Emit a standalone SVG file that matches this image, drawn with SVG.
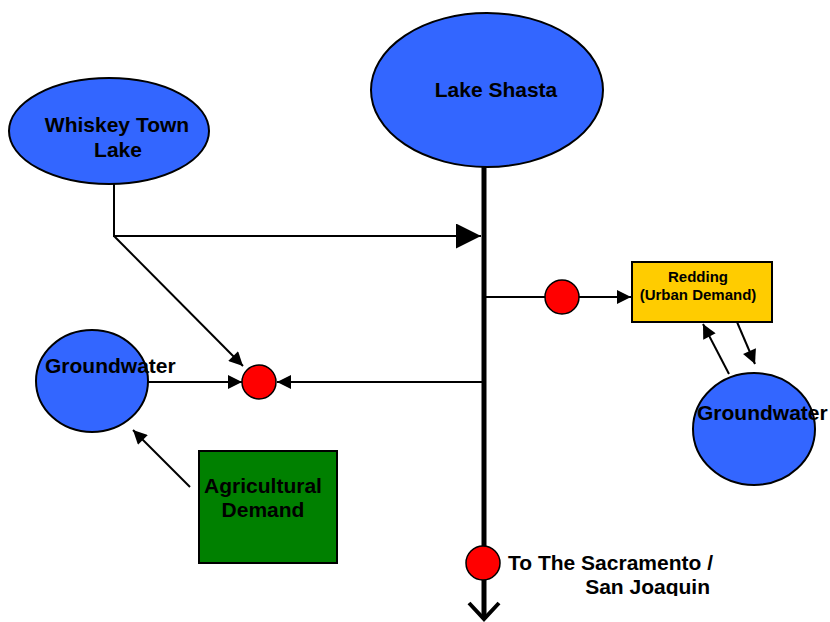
<svg xmlns="http://www.w3.org/2000/svg" width="830" height="622" viewBox="0 0 830 622">
<style>
.blue{fill:#3366FF;stroke:#000;stroke-width:2}
.red{fill:#FF0000;stroke:#000;stroke-width:1.5}
.t{font-family:"Liberation Sans",Arial,sans-serif;font-weight:bold;font-size:21px;fill:#000}
.s{font-size:15px}
.ln{fill:none;stroke:#000;stroke-width:2}
</style>
<defs>
<marker id="ah" viewBox="0 0 10 10" refX="10" refY="5" markerWidth="15" markerHeight="14" markerUnits="userSpaceOnUse" orient="auto">
<path d="M0,0 L10,5 L0,10 z" fill="#000"/>
</marker>
<marker id="big" viewBox="0 0 10 10" refX="10" refY="5" markerWidth="25" markerHeight="25" markerUnits="userSpaceOnUse" orient="auto">
<path d="M0,0 L10,5 L0,10 z" fill="#000"/>
</marker>
<clipPath id="clipBottom"><rect x="0" y="0" width="830" height="596"/></clipPath>
</defs>
<rect width="830" height="622" fill="#fff"/>
<g id="connectors">
<line x1="484" y1="167" x2="484" y2="619" stroke="#000" stroke-width="5"/>
<polyline points="469,603 484,619 499,603" fill="none" stroke="#000" stroke-width="4"/>
<polyline class="ln" points="114,184 114,236 481,236" marker-end="url(#big)"/>
<line class="ln" x1="114" y1="236" x2="243" y2="366" marker-end="url(#ah)"/>
<line class="ln" x1="148" y1="382" x2="242" y2="382" marker-end="url(#ah)"/>
<line class="ln" x1="484" y1="382" x2="277" y2="382" marker-end="url(#ah)"/>
<line class="ln" x1="484" y1="297" x2="631" y2="297" marker-end="url(#ah)"/>
<line class="ln" x1="729" y1="374" x2="703" y2="324" marker-end="url(#ah)"/>
<line class="ln" x1="737" y1="322" x2="755" y2="364" marker-end="url(#ah)"/>
<line class="ln" x1="190" y1="487" x2="133" y2="430" marker-end="url(#ah)"/>
</g>
<g id="lake-shasta">
<ellipse class="blue" cx="487" cy="90" rx="116" ry="77"/>
<text class="t" x="496" y="97" text-anchor="middle">Lake Shasta</text>
</g>
<g id="whiskey-town-lake">
<ellipse class="blue" cx="109" cy="131" rx="100" ry="53"/>
<text class="t" x="117" y="132" text-anchor="middle">Whiskey Town</text>
<text class="t" x="118" y="157" text-anchor="middle">Lake</text>
</g>
<g id="groundwater-left">
<ellipse class="blue" cx="92" cy="381" rx="56" ry="51"/>
<text class="t" x="45" y="373">Groundwater</text>
</g>
<g id="junction-left">
<circle class="red" cx="259" cy="382" r="17"/>
</g>
<g id="junction-redding">
<circle class="red" cx="562" cy="297" r="17"/>
</g>
<g id="redding">
<rect x="632" y="262" width="140" height="60" fill="#FFCC00" stroke="#000" stroke-width="2"/>
<text class="t s" x="698" y="282" text-anchor="middle">Redding</text>
<text class="t s" x="698" y="300" text-anchor="middle">(Urban Demand)</text>
</g>
<g id="groundwater-right">
<ellipse class="blue" cx="754" cy="429" rx="61" ry="56"/>
<text class="t" x="697" y="420">Groundwater</text>
</g>
<g id="agricultural-demand">
<rect x="199" y="451" width="138" height="112" fill="#008000" stroke="#000" stroke-width="2"/>
<text class="t" x="263" y="493" text-anchor="middle">Agricultural</text>
<text class="t" x="263" y="517" text-anchor="middle">Demand</text>
</g>
<g id="outflow">
<circle class="red" cx="483" cy="563" r="17"/>
<text class="t" x="508" y="570">To The Sacramento /</text>
<text class="t" x="710" y="594" text-anchor="end" clip-path="url(#clipBottom)">San Joaquin</text>
</g>
</svg>
